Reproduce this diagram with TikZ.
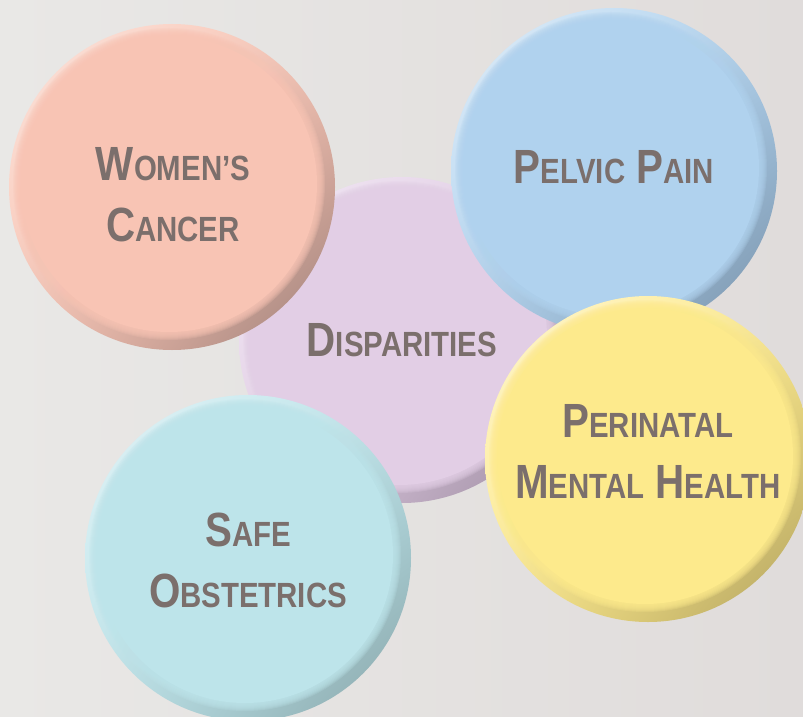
\documentclass[tikz,border=0pt]{standalone}
\usepackage{fontspec}
\setmainfont{Liberation Sans}[FakeStretch=0.84]
\usetikzlibrary{shadings}
\definecolor{txt}{HTML}{7B6F6C}
\definecolor{bgl}{HTML}{E9E8E6}
\definecolor{bgr}{HTML}{E0DCDB}
\definecolor{salB}{HTML}{F8C4B4}\definecolor{salL}{HTML}{FDE6DE}\definecolor{salD}{HTML}{9E7F78}
\definecolor{bluB}{HTML}{B0D2EE}\definecolor{bluL}{HTML}{E2EFFA}\definecolor{bluD}{HTML}{7690A8}
\definecolor{lavB}{HTML}{E2CEE5}\definecolor{lavL}{HTML}{F3EAF5}\definecolor{lavD}{HTML}{9C8A9F}
\definecolor{yelB}{HTML}{FDEA8C}\definecolor{yelL}{HTML}{FFF7D2}\definecolor{yelD}{HTML}{B0A05C}
\definecolor{cyaB}{HTML}{BDE4EA}\definecolor{cyaL}{HTML}{E3F4F7}\definecolor{cyaD}{HTML}{86A4A8}
\newcommand\BC[1]{{\fontsize{48}{61}\selectfont #1}}
\newcommand\SC[1]{{\fontsize{35}{61}\selectfont #1}}
\newcommand\mybutton[5]{%
  \shade[upper left=#4, lower right=#5, upper right=#3, lower left=#3] (#1,#2) circle[radius=163pt];
  \foreach \i in {0,...,7}{\fill[#3, opacity=0.22] ({#1-3},{#2+3}) circle[radius={(156-\i)*1pt}];}
  \fill[#3] ({#1-3},{#2+3}) circle[radius=148pt];
}
\tikzset{lbl/.style={text=txt, font=\bfseries\fontsize{48}{61}\selectfont, align=center, inner sep=0pt, anchor=center}}
\begin{document}
\begin{tikzpicture}[x=1pt,y=1pt]
\useasboundingbox (0,0) rectangle (803,-717);
\shade[left color=bgl, right color=bgr] (0,0) rectangle (803,-717);
\mybutton{402}{-340}{lavB}{lavL}{lavD}
\node[lbl] (dis) at (402,-340) {\BC{D}\SC{ISPARITIES}};
\mybutton{172}{-187}{salB}{salL}{salD}
\node[lbl] (wc) at (173,-195) {\BC{W}\SC{OMEN’S}\\\BC{C}\SC{ANCER}};
\mybutton{614}{-171}{bluB}{bluL}{bluD}
\node[lbl] (pp) at (614,-167.5) {\BC{P}\SC{ELVIC} \BC{P}\SC{AIN}};
\mybutton{248}{-558}{cyaB}{cyaL}{cyaD}
\node[lbl] (so) at (248,-560) {\BC{S}\SC{AFE}\\\BC{O}\SC{BSTETRICS}};
\mybutton{648}{-459}{yelB}{yelL}{yelD}
\node[lbl] (pmh) at (648,-451.5) {\BC{P}\SC{ERINATAL}\\\BC{M}\SC{ENTAL} \BC{H}\SC{EALTH}};
\end{tikzpicture}
\end{document}
